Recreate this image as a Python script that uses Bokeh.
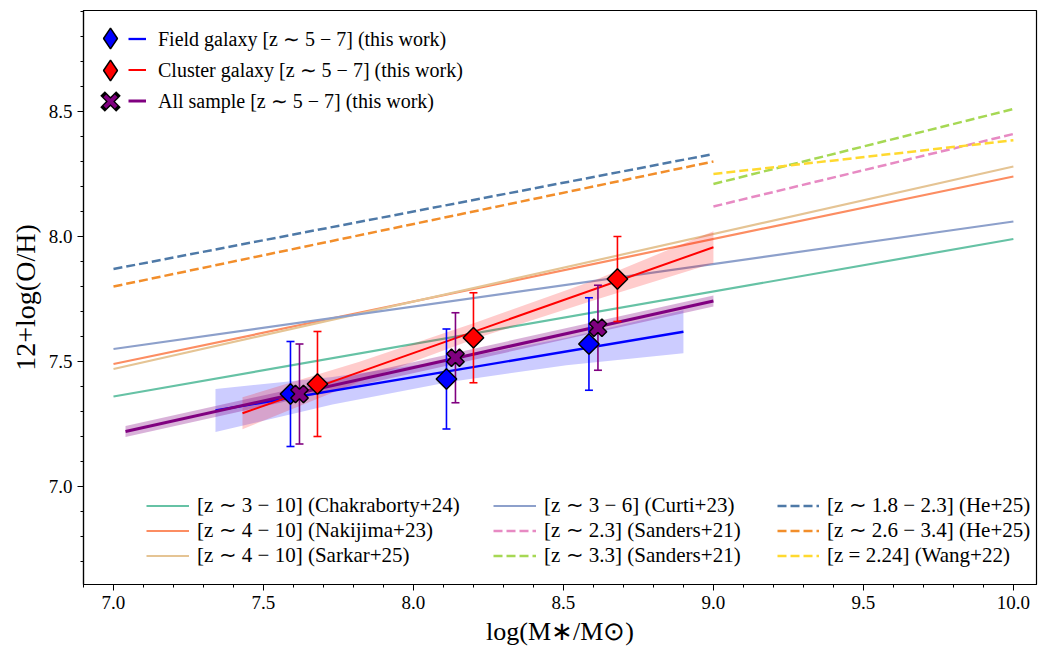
import numpy as np
from bokeh.plotting import figure
from bokeh.models import Legend, LegendItem, Range1d, SingleIntervalTicker, PrintfTickFormatter
from bokeh.embed import file_html
from bokeh.resources import INLINE

# ---------------- data ----------------
field_mass = [7.59, 8.11, 8.585]
field_oh = [7.37, 7.43, 7.57]
field_err = [0.21, 0.20, 0.185]

cluster_mass = [7.68, 8.20, 8.68]
cluster_oh = [7.41, 7.595, 7.83]
cluster_err = [0.21, 0.18, 0.17]

all_mass = [7.62, 8.14, 8.615]
all_oh = [7.37, 7.515, 7.635]
all_err = [0.20, 0.18, 0.17]

# linear fits of this work
field_fit_x = [7.34, 8.90]
field_fit_y = [7.304, 7.619]
field_band_x = [7.34, 7.73, 8.12, 8.51, 8.90]
field_band_lo = [7.218, 7.328, 7.418, 7.485, 7.533]
field_band_hi = [7.390, 7.438, 7.504, 7.595, 7.705]

cluster_fit_x = [7.43, 9.00]
cluster_fit_y = [7.293, 7.957]
cluster_band_x = [7.43, 7.82, 8.21, 8.61, 9.00]
cluster_band_lo = [7.229, 7.419, 7.593, 7.748, 7.893]
cluster_band_hi = [7.357, 7.499, 7.657, 7.828, 8.021]

all_fit_x = [7.04, 9.00]
all_fit_y = [7.220, 7.742]
all_band_x = [7.04, 9.00]
all_band_lo = [7.198, 7.720]
all_band_hi = [7.242, 7.764]

# literature relations
chakraborty_x, chakraborty_y = [7.0, 10.0], [7.36, 7.99]
curti_x, curti_y = [7.0, 10.0], [7.55, 8.06]
nakajima_x, nakajima_y = [7.0, 10.0], [7.49, 8.24]
sarkar_x, sarkar_y = [7.0, 10.0], [7.47, 8.28]
sanders23_x, sanders23_y = [9.0, 10.0], [8.12, 8.41]
sanders33_x, sanders33_y = [9.0, 10.0], [8.21, 8.51]
he18_x, he18_y = [7.0, 9.0], [7.87, 8.33]
he26_x, he26_y = [7.0, 9.0], [7.80, 8.30]
wang_x, wang_y = [9.0, 10.0], [8.25, 8.385]

FONT = "Liberation Serif"

p = figure(width=1039, height=650, output_backend="svg", toolbar_location=None,
           x_range=Range1d(6.9, 10.077), y_range=Range1d(6.608, 8.904),
           min_border_left=83, min_border_right=3, min_border_top=10, min_border_bottom=66)
p.xgrid.visible = False
p.ygrid.visible = False
p.outline_line_color = "black"
p.outline_line_width = 1.2
p.outline_line_alpha = 1.0
p.background_fill_color = "white"
p.border_fill_color = "white"

p.xaxis.ticker = SingleIntervalTicker(interval=0.5, num_minor_ticks=5)
p.yaxis.ticker = SingleIntervalTicker(interval=0.5, num_minor_ticks=5)
for ax in (p.xaxis[0], p.yaxis[0]):
    ax.formatter = PrintfTickFormatter(format="%.1f")
    ax.axis_line_color = "black"
    ax.axis_line_width = 1.2
    ax.major_tick_line_color = "black"
    ax.minor_tick_line_color = "black"
    ax.major_tick_out = 6
    ax.major_tick_in = 0
    ax.minor_tick_out = 3
    ax.minor_tick_in = 0
    ax.major_label_text_font = FONT
    ax.major_label_text_font_size = "19px"
    ax.major_label_text_color = "black"
    ax.axis_label_text_font = FONT
    ax.axis_label_text_font_style = "normal"
    ax.axis_label_text_color = "black"
    ax.major_label_standoff = 5
    ax.axis_label_standoff = 5
p.xaxis.axis_label = "log(M∗/M⊙)"
p.xaxis.axis_label_text_font_size = "26px"
p.yaxis.axis_label = "12+log(O/H)"
p.yaxis.axis_label_text_font_size = "28px"

# literature lines
lw = 2.2
r_chak = p.line(chakraborty_x, chakraborty_y, line_color="#66c2a5", line_width=lw)
r_naka = p.line(nakajima_x, nakajima_y, line_color="#fc8d62", line_width=lw)
r_sark = p.line(sarkar_x, sarkar_y, line_color="#e5c494", line_width=lw)
r_curt = p.line(curti_x, curti_y, line_color="#8da0cb", line_width=lw)
dash = "9 4"
r_s23 = p.line(sanders23_x, sanders23_y, line_color="#e78ac3", line_width=2.5, line_dash=dash)
r_s33 = p.line(sanders33_x, sanders33_y, line_color="#a6d854", line_width=2.5, line_dash=dash)
r_he18 = p.line(he18_x, he18_y, line_color="#4e79a7", line_width=2.5, line_dash=dash)
r_he26 = p.line(he26_x, he26_y, line_color="#f28e2b", line_width=2.5, line_dash=dash)
r_wang = p.line(wang_x, wang_y, line_color="#ffd92f", line_width=2.5, line_dash=dash)

# bands
p.varea(x=field_band_x, y1=field_band_lo, y2=field_band_hi, fill_color="blue", fill_alpha=0.2)
p.varea(x=cluster_band_x, y1=cluster_band_lo, y2=cluster_band_hi, fill_color="red", fill_alpha=0.2)
p.varea(x=all_band_x, y1=all_band_lo, y2=all_band_hi, fill_color="purple", fill_alpha=0.3)

# fit lines
r_fit_field = p.line(field_fit_x, field_fit_y, line_color="blue", line_width=2.3)
r_fit_cluster = p.line(cluster_fit_x, cluster_fit_y, line_color="red", line_width=2.0)
r_fit_all = p.line(all_fit_x, all_fit_y, line_color="purple", line_width=3.0)


def errbars(xs, ys, es, color):
    xs = np.array(xs); ys = np.array(ys); es = np.array(es)
    p.segment(x0=xs, y0=ys - es, x1=xs, y1=ys + es, line_color=color, line_width=1.6)
    p.scatter(x=np.concatenate([xs, xs]), y=np.concatenate([ys - es, ys + es]),
              marker="dash", size=8, line_color=color, line_width=1.6)


errbars(field_mass, field_oh, field_err, "blue")
errbars(all_mass, all_oh, all_err, "purple")
errbars(cluster_mass, cluster_oh, cluster_err, "red")

# legend-symbol glyphs: small markers fully hidden underneath the visible data markers
lg_field = p.scatter(field_mass, field_oh, marker="diamond", size=13,
                     fill_color="blue", line_color="black", line_width=1.5)
p.scatter(field_mass, field_oh, marker="square", angle=np.pi / 4, size=14.5,
          fill_color="blue", line_color="black", line_width=1.5)
lg_cluster = p.scatter(cluster_mass, cluster_oh, marker="diamond", size=13,
                       fill_color="red", line_color="black", line_width=1.5)
p.scatter(cluster_mass, cluster_oh, marker="square", angle=np.pi / 4, size=14.5,
          fill_color="red", line_color="black", line_width=1.5)
lg_all_o = p.scatter(all_mass, all_oh, marker="x", size=6, line_color="black",
                     line_width=6.5, line_cap="square")
lg_all_i = p.scatter(all_mass, all_oh, marker="x", size=6, line_color="purple", line_width=3.8)
p.scatter(all_mass, all_oh, marker="plus", angle=np.pi / 4, size=18,
          fill_color="purple", line_color="black", line_width=1.5)


# ---------------- legends ----------------
def style(leg, font_size):
    leg.background_fill_alpha = 0
    leg.border_line_color = None
    leg.padding = 0
    leg.margin = 0
    leg.label_text_font = FONT
    leg.label_text_font_size = font_size
    leg.label_text_color = "black"


FRAME_BOTTOM = 584   # screen px of frame bottom
FRAME_LEFT = 83
row_c = [38, 69.5, 101]
marker_cx = 110
marker_legends = []
for rends, gsz, cy in [([lg_field], 52, row_c[0]), ([lg_cluster], 52, row_c[1]),
                       ([lg_all_o, lg_all_i], 40, row_c[2])]:
    lg = Legend(items=[LegendItem(label=" ", renderers=rends)],
                location=(marker_cx - gsz / 2 - FRAME_LEFT, FRAME_BOTTOM - (cy + gsz / 2)),
                glyph_width=gsz, glyph_height=gsz, label_standoff=0)
    style(lg, "10px")
    lg.label_width = 1
    marker_legends.append(lg)

legB = Legend(items=[LegendItem(label="Field galaxy [z ∼ 5 − 7] (this work)", renderers=[r_fit_field]),
                     LegendItem(label="Cluster galaxy [z ∼ 5 − 7] (this work)", renderers=[r_fit_cluster]),
                     LegendItem(label="All sample [z ∼ 5 − 7] (this work)", renderers=[r_fit_all])],
              location=(45, 468), glyph_width=18, glyph_height=31, spacing=0, label_standoff=12)
style(legB, "20px")

bot_vy = 16
leg1 = Legend(items=[LegendItem(label="[z ∼ 3 − 10] (Chakraborty+24)", renderers=[r_chak]),
                     LegendItem(label="[z ∼ 4 − 10] (Nakijima+23)", renderers=[r_naka]),
                     LegendItem(label="[z ∼ 4 − 10] (Sarkar+25)", renderers=[r_sark])],
              location=(63, bot_vy), glyph_width=43, glyph_height=25, spacing=0, label_standoff=8)
leg2 = Legend(items=[LegendItem(label="[z ∼ 3 − 6] (Curti+23)", renderers=[r_curt]),
                     LegendItem(label="[z ∼ 2.3] (Sanders+21)", renderers=[r_s23]),
                     LegendItem(label="[z ∼ 3.3] (Sanders+21)", renderers=[r_s33])],
              location=(410, bot_vy), glyph_width=43, glyph_height=25, spacing=0, label_standoff=8)
leg3 = Legend(items=[LegendItem(label="[z ∼ 1.8 − 2.3] (He+25)", renderers=[r_he18]),
                     LegendItem(label="[z ∼ 2.6 − 3.4] (He+25)", renderers=[r_he26]),
                     LegendItem(label="[z = 2.24] (Wang+22)", renderers=[r_wang])],
              location=(694, bot_vy), glyph_width=42, glyph_height=25, spacing=0, label_standoff=8)
for lg in (leg1, leg2, leg3):
    style(lg, "21px")

for lg in marker_legends + [legB, leg1, leg2, leg3]:
    p.add_layout(lg)

open("out.html", "w").write(file_html(p, INLINE))
